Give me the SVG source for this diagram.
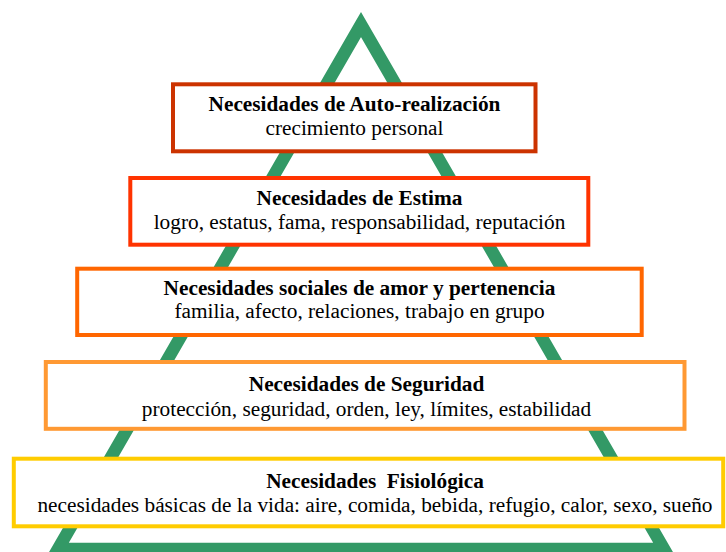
<svg xmlns="http://www.w3.org/2000/svg" width="726" height="552" viewBox="0 0 726 552">
  <style>
    .box { fill: #ffffff; stroke-width: 4; }
    .t { font-family: "Liberation Serif", "Times New Roman", serif; font-size: 21.3px; fill: #000000; text-anchor: middle; }
    .b { font-weight: bold; }
  </style>
  <rect x="0" y="0" width="726" height="552" fill="#ffffff"/>
  <g id="pyramid">
    <polygon points="361,24.5 58,549 664,549" fill="none" stroke="#339966" stroke-width="12.5" stroke-linejoin="miter"/>
  </g>
  <g id="auto-realizacion">
    <rect class="box" x="173" y="84.3" width="362.5" height="67" stroke="#CC3300"/>
    <text class="t b" x="354.5" y="111">Necesidades de Auto-realización</text>
    <text class="t" x="354.5" y="135">crecimiento personal</text>
  </g>
  <g id="estima">
    <rect class="box" x="130.3" y="178" width="458" height="66.7" stroke="#FF3300"/>
    <text class="t b" x="359.5" y="205">Necesidades de Estima</text>
    <text class="t" x="359.5" y="229">logro, estatus, fama, responsabilidad, reputación</text>
  </g>
  <g id="social">
    <rect class="box" x="77.2" y="268.7" width="564.5" height="66.3" stroke="#FF6600"/>
    <text class="t b" x="359.5" y="294.5">Necesidades sociales de amor y pertenencia</text>
    <text class="t" x="359.5" y="318.3">familia, afecto, relaciones, trabajo en grupo</text>
  </g>
  <g id="seguridad">
    <rect class="box" x="45.8" y="362" width="638.7" height="66.8" stroke="#FF9933"/>
    <text class="t b" x="366.5" y="391">Necesidades de Seguridad</text>
    <text class="t" x="366.5" y="415.5">protección, seguridad, orden, ley, límites, estabilidad</text>
  </g>
  <g id="fisiologica">
    <rect class="box" x="13.8" y="458.7" width="709.4" height="67.6" stroke="#FFCC00"/>
    <text class="t b" x="375" y="488.3" xml:space="preserve">Necesidades  Fisiológica</text>
    <text class="t" x="375" y="512">necesidades básicas de la vida: aire, comida, bebida, refugio, calor, sexo, sueño</text>
  </g>
</svg>
